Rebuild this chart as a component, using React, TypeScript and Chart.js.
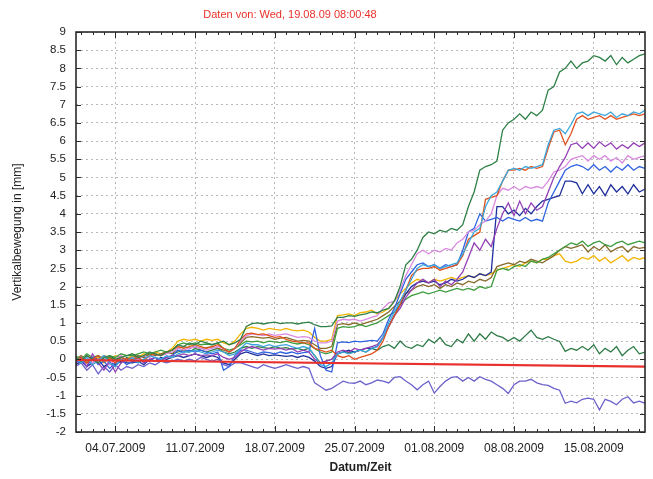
import { useEffect, useRef } from 'react';
import { Chart, registerables } from 'chart.js';

Chart.register(...registerables);

const TITLE = 'Daten von: Wed, 19.08.09 08:00:48';
const Y_TITLE = 'Vertikalbewegung in [mm]';
const X_TITLE = 'Datum/Zeit';
const FAMILY = '"Liberation Sans", Arial, Helvetica, sans-serif';

// x values: days since 27.06.2009 00:00
const xTickDays = [7, 14, 21, 28, 35, 42, 49];
const xTickLabels = ['04.07.2009', '11.07.2009', '18.07.2009', '25.07.2009', '01.08.2009', '08.08.2009', '15.08.2009'];
const sampleDays = Array.from({ length: 101 }, (_, i) => 3.5 + i * 0.5);

const redDays = [3.55, 53.5];
const redVals = [-0.02, -0.2];

const greenTop = [0.05, -0.05, 0.1, 0.0, -0.1, 0.05, 0.1, 0.0, 0.05, 0.1,
  0.15, 0.05, 0.1, 0.2, 0.15, 0.1, 0.2, 0.25,
  0.4, 0.35, 0.45, 0.4, 0.5, 0.45, 0.4, 0.45, 0.5, 0.4, 0.45, 0.55,
  0.9, 0.98, 1.0, 0.97, 1.0, 1.02, 0.98, 1.0, 1.0, 0.97, 1.0, 1.02,
  0.95, 0.9, 0.9, 0.92,
  1.15, 1.15, 1.2, 1.18, 1.22, 1.25, 1.3, 1.28, 1.35, 1.4,
  1.6, 2.0, 2.6, 2.75, 3.0, 3.35,
  3.5, 3.45, 3.55, 3.5, 3.6, 3.55,
  3.7, 4.2, 4.6, 5.2, 5.3, 5.35, 5.45,
  6.3, 6.5, 6.6, 6.75, 6.6, 6.8, 6.7, 6.85,
  7.4, 7.5, 7.9, 8.0, 8.2, 8.0, 8.15, 8.2,
  8.35, 8.3, 8.2, 8.35, 8.1, 8.3, 8.15, 8.25, 8.35, 8.4];

const cyan = [0.0, -0.1, 0.05, -0.15, -0.05, 0.1, -0.1, -0.2, 0.0, -0.05,
  0.05, -0.1, 0.0, 0.1, 0.05, 0.0, 0.1, 0.05,
  0.15, 0.2, 0.2, 0.25, 0.2, 0.15, 0.2, 0.25, 0.2, 0.1, 0.15, 0.3,
  0.45, 0.4, 0.4, 0.35, 0.4, 0.35, 0.38, 0.4, 0.35, 0.3, 0.35, 0.3,
  0.1, -0.15, -0.2, -0.1,
  0.15, 0.2, 0.15, 0.2, 0.25, 0.2, 0.3, 0.35, 0.6, 1.0,
  1.3, 1.6, 1.9, 2.2, 2.5, 2.6,
  2.55, 2.6, 2.5, 2.55, 2.6, 2.65,
  2.9, 3.2, 3.5, 3.6, 4.2, 4.5, 4.6,
  4.9, 5.2, 5.25, 5.2, 5.3, 5.25, 5.3, 5.35,
  5.9, 6.3, 6.35, 6.2, 6.45, 6.75, 6.8, 6.7,
  6.8, 6.75, 6.7, 6.8, 6.65, 6.75, 6.7, 6.8, 6.75, 6.85];

const orange = [-0.05, 0.05, -0.1, 0.0, 0.1, -0.05, 0.0, -0.1, 0.05, 0.0,
  0.0, 0.05, -0.05, 0.1, 0.15, 0.1, 0.2, 0.25,
  0.35, 0.3, 0.35, 0.4, 0.35, 0.3, 0.35, 0.4, 0.3, 0.2, 0.3, 0.55,
  0.7, 0.72, 0.68, 0.7, 0.65, 0.6, 0.62, 0.55, 0.5, 0.48, 0.45, 0.45,
  0.3, 0.25, 0.2, 0.25,
  0.1, 0.05, 0.1, 0.0, 0.05, 0.1, 0.15, 0.25, 0.5, 0.9,
  1.2, 1.5, 1.9, 2.3, 2.45, 2.5,
  2.5, 2.55, 2.45, 2.5, 2.55, 2.6,
  2.85, 3.3, 3.4, 3.5, 4.4, 4.45, 4.5,
  4.9, 5.2, 5.2, 5.25, 5.2, 5.3, 5.25, 5.3,
  5.8, 6.25, 6.3, 5.9, 6.2, 6.6, 6.7, 6.6,
  6.65, 6.7, 6.6, 6.7, 6.6, 6.65, 6.7, 6.75, 6.7, 6.75];

const purple = [-0.1, 0.05, -0.2, 0.15, -0.1, -0.3, -0.05, -0.35, -0.1, 0.0,
  -0.05, 0.05, -0.1, 0.0, 0.05, -0.05, 0.05, 0.1,
  0.1, 0.15, 0.1, 0.15, 0.1, 0.12, 0.1, 0.15, 0.05, 0.0, 0.05, 0.2,
  0.3, 0.35, 0.3, 0.25, 0.3, 0.28, 0.3, 0.25, 0.3, 0.2, 0.25, 0.2,
  0.0, -0.1, -0.05, 0.0,
  0.2, 0.25, 0.2, 0.3, 0.25, 0.3, 0.35, 0.4, 0.6, 0.9,
  1.2, 1.4, 1.7, 1.9, 2.1, 2.2,
  2.1, 2.2, 2.0, 2.15, 2.05, 2.2,
  2.4, 2.8, 3.2, 3.0, 3.3, 3.1, 3.6,
  4.0, 4.3, 3.95, 4.35, 4.0, 4.3, 4.1, 4.2,
  4.6, 5.0, 5.3, 5.55, 5.9, 5.95, 5.8, 5.95,
  5.8, 5.98, 5.85, 5.95, 5.78, 5.9, 5.8, 5.95, 5.85, 5.95];

const pink = [0.05, -0.05, 0.1, -0.1, 0.0, 0.05, -0.15, 0.0, 0.1, -0.05,
  0.05, 0.0, 0.1, 0.05, 0.15, 0.1, 0.15, 0.2,
  0.3, 0.25, 0.3, 0.35, 0.3, 0.25, 0.3, 0.35, 0.3, 0.2, 0.3, 0.5,
  0.65, 0.7, 0.68, 0.65, 0.7, 0.66, 0.68, 0.7, 0.65, 0.6, 0.62, 0.6,
  0.5, 0.45, 0.45, 0.5,
  1.05, 1.1, 1.08, 1.1, 1.05, 1.1, 1.15, 1.2, 1.4, 1.55,
  1.6, 1.9, 2.3, 2.6, 2.9, 3.0,
  2.9, 3.0, 2.95, 3.05, 3.0, 3.2,
  3.3, 3.5, 3.55, 3.7, 3.8, 4.0, 4.5,
  4.7, 4.65, 4.75, 4.65, 4.75, 4.7, 4.75, 4.7,
  4.9, 5.15, 5.2, 5.3, 5.5, 5.55, 5.6, 5.45,
  5.6, 5.5, 5.6, 5.45, 5.55, 5.4, 5.6, 5.5, 5.55, 5.6];

const blue = [-0.1, 0.0, -0.2, 0.05, -0.15, -0.05, -0.25, -0.1, 0.0, -0.15,
  -0.05, -0.1, 0.0, -0.05, 0.05, 0.0, 0.05, 0.1,
  0.25, 0.2, 0.25, 0.2, 0.25, 0.2, 0.15, 0.2, -0.3, -0.2, 0.1, 0.25,
  0.25, 0.2, 0.15, 0.2, 0.18, 0.15, 0.2, 0.16, 0.2, 0.15, 0.18, 0.2,
  0.85, 0.1, -0.3, -0.35,
  0.45, 0.48, 0.46, 0.5, 0.48, 0.5, 0.52, 0.5, 0.7, 1.1,
  1.4, 1.8, 2.2, 2.4, 2.6, 2.65,
  2.55, 2.6, 2.5, 2.6, 2.55, 2.6,
  3.0, 3.5, 3.6, 4.0, 3.8, 3.85, 3.9,
  3.8, 3.9, 3.85, 3.8, 3.9, 3.8, 3.85, 3.8,
  4.3, 4.6, 4.9, 5.2, 5.3, 5.35, 5.3, 5.2,
  5.35, 5.2, 5.3, 5.15, 5.3, 5.2, 5.35, 5.2, 5.3, 5.25];

const navy = [-0.15, -0.05, -0.2, -0.1, 0.0, -0.2, -0.1, -0.15, -0.05, -0.1,
  -0.1, -0.05, -0.15, 0.0, -0.05, 0.05, 0.0, 0.05,
  0.1, 0.05, 0.1, 0.15, 0.1, 0.05, 0.1, 0.05, -0.1, -0.15, 0.0, 0.15,
  0.2, 0.15, 0.1, 0.15, 0.1, 0.12, 0.1, 0.08, 0.1, 0.05, 0.1, 0.05,
  -0.05, -0.2, -0.25, -0.2,
  0.15, 0.2, 0.25, 0.2, 0.25, 0.3, 0.3, 0.35, 0.6, 0.9,
  1.2, 1.5, 1.8, 2.0, 2.1, 2.15,
  2.1, 2.15, 2.05, 2.1, 2.2, 2.15,
  2.2, 2.3, 2.25, 2.35, 2.3, 2.4, 4.2,
  4.2, 4.0, 4.1, 3.95, 4.15, 4.0, 4.2, 4.35,
  4.4, 4.45, 4.5, 4.9, 4.9, 4.85, 4.55, 4.8,
  4.55, 4.75, 4.5, 4.8, 4.6, 4.75, 4.55, 4.8, 4.6, 4.68];

const greenMid = [0.1, 0.0, 0.15, 0.05, 0.1, 0.0, 0.1, 0.05, 0.15, 0.1,
  0.1, 0.15, 0.2, 0.15, 0.2, 0.25, 0.2, 0.25,
  0.4, 0.45, 0.4, 0.45, 0.4, 0.42, 0.4, 0.45, 0.3, 0.25, 0.3, 0.4,
  0.5, 0.48, 0.5, 0.45, 0.5, 0.48, 0.46, 0.5, 0.45, 0.42, 0.45, 0.4,
  0.3, 0.2, 0.15, 0.2,
  0.85, 0.9, 0.88, 0.9, 0.95, 0.9, 0.95, 1.0, 1.1, 1.2,
  1.3, 1.5, 1.65, 1.75, 1.8, 1.85,
  1.8, 1.85, 1.9, 1.85, 1.9, 1.95,
  1.9, 1.95, 1.9, 2.0, 1.95, 2.0, 2.45,
  2.5, 2.45, 2.55, 2.6, 2.55, 2.7, 2.65, 2.75,
  2.8, 2.9, 3.0, 3.1, 3.2, 3.15, 3.25, 3.1,
  3.2, 3.25, 3.15, 3.1, 3.2, 3.25, 3.15, 3.2, 3.25, 3.2];

const brown = [0.0, 0.1, -0.05, 0.05, 0.0, 0.1, 0.05, -0.05, 0.05, 0.0,
  0.05, 0.1, 0.05, 0.15, 0.1, 0.15, 0.2, 0.15,
  0.3, 0.35, 0.3, 0.35, 0.3, 0.32, 0.35, 0.3, 0.25, 0.2, 0.3, 0.45,
  0.6, 0.62, 0.6, 0.58, 0.6, 0.55, 0.58, 0.6, 0.55, 0.5, 0.52, 0.5,
  0.4, 0.3, 0.3, 0.35,
  0.95, 0.98, 0.95, 1.0, 0.95, 1.0, 1.05, 1.1, 1.2, 1.3,
  1.45, 1.6, 1.8, 1.9, 2.0, 2.05,
  2.0, 2.05, 1.95, 2.05, 2.0, 2.1,
  2.05, 2.15, 2.1, 2.2, 2.15, 2.25, 2.55,
  2.6, 2.65, 2.6, 2.7, 2.65, 2.75, 2.7, 2.65,
  2.75, 2.85, 3.0, 3.1, 3.05, 3.1, 3.15, 2.95,
  3.1, 3.0, 3.15, 2.95, 3.05, 3.1, 2.95, 3.1, 3.05, 3.08];

const yellow = [0.05, -0.05, 0.1, 0.0, 0.05, -0.1, 0.0, 0.1, 0.05, 0.0,
  0.1, 0.05, 0.15, 0.1, 0.2, 0.15, 0.2, 0.3,
  0.5, 0.55, 0.52, 0.55, 0.5, 0.55, 0.52, 0.55, 0.45, 0.4, 0.5, 0.7,
  0.85, 0.88, 0.85, 0.8, 0.85, 0.82, 0.8, 0.85, 0.8, 0.78, 0.8, 0.75,
  0.6, 0.5, 0.5, 0.55,
  1.2, 1.22, 1.25, 1.2, 1.28, 1.3, 1.35, 1.25, 1.3, 1.4,
  1.6, 1.8, 1.95, 2.1, 2.2, 2.15,
  2.1, 2.2, 2.15, 2.2, 2.25, 2.2,
  2.25, 2.3, 2.25, 2.35, 2.3, 2.35, 2.45,
  2.5, 2.55, 2.6, 2.55, 2.65, 2.7, 2.65, 2.75,
  2.75, 2.85, 2.9, 2.7, 2.65, 2.7, 2.8, 2.75,
  2.85, 2.7, 2.8, 2.65, 2.75, 2.85, 2.7, 2.8, 2.75, 2.8];

const greenLow = [-0.05, 0.05, -0.1, 0.0, 0.1, -0.05, 0.05, 0.0, -0.1, 0.05,
  0.0, 0.1, 0.05, 0.1, 0.15, 0.1, 0.2, 0.15,
  0.2, 0.25, 0.2, 0.3, 0.25, 0.2, 0.25, 0.3, 0.2, 0.15, 0.2, 0.3,
  0.35, 0.3, 0.35, 0.32, 0.3, 0.35, 0.3, 0.32, 0.28, 0.3, 0.25, 0.3,
  0.1, -0.1, -0.05, 0.0,
  0.15, 0.2, 0.18, 0.2, 0.25, 0.2, 0.3, 0.25, 0.35, 0.4,
  0.3, 0.5, 0.35, 0.3, 0.4, 0.35,
  0.55, 0.45, 0.6, 0.4, 0.35, 0.55,
  0.45, 0.7, 0.5, 0.7, 0.55, 0.75, 0.65,
  0.6, 0.5, 0.6, 0.5, 0.65, 0.8, 0.6, 0.55,
  0.62, 0.55, 0.49, 0.22, 0.3, 0.25, 0.35, 0.25,
  0.4, 0.15, 0.3, 0.2, 0.35, 0.1, 0.25, 0.35, 0.15, 0.2];

const violet = [-0.2, -0.1, -0.3, -0.15, -0.4, -0.2, -0.35, -0.15, -0.3, -0.2,
  -0.25, -0.15, -0.2, -0.1, -0.15, -0.05, -0.1, -0.05,
  0.0, -0.05, 0.0, -0.05, 0.05, 0.0, -0.05, 0.0, -0.15, -0.2, -0.1, -0.1,
  -0.15, -0.2, -0.25, -0.15, -0.2, -0.25, -0.2, -0.15, -0.2, -0.25, -0.2, -0.25,
  -0.65, -0.75, -0.85, -0.8,
  -0.7, -0.6, -0.65, -0.66, -0.6, -0.7, -0.65, -0.57, -0.6, -0.65,
  -0.5, -0.48, -0.6, -0.7, -0.84, -0.7,
  -0.6, -0.93, -0.75, -0.6, -0.5, -0.48,
  -0.6, -0.5, -0.6, -0.48, -0.55, -0.6, -0.7,
  -0.8, -0.94, -0.7, -0.6, -0.6, -0.55, -0.65, -0.7,
  -0.72, -0.8, -0.85, -1.21, -1.15, -1.2, -1.1, -1.07,
  -1.1, -1.39, -1.1, -1.16, -1.25, -1.1, -1.03, -1.2, -1.15, -1.21];

const seriesDefs = [
  { name: 'Grün oben', values: greenTop, color: '#2f8047' },
  { name: 'Cyan', values: cyan, color: '#3aa6dc' },
  { name: 'Orange', values: orange, color: '#e0531e' },
  { name: 'Violett', values: purple, color: '#9440b5' },
  { name: 'Rosa', values: pink, color: '#d98ae0' },
  { name: 'Blau', values: blue, color: '#2f62e0' },
  { name: 'Dunkelblau', values: navy, color: '#1f2f9c' },
  { name: 'Grün', values: greenMid, color: '#3c9c3c' },
  { name: 'Braun', values: brown, color: '#866a2a' },
  { name: 'Gelb', values: yellow, color: '#f2b400' },
  { name: 'Grün unten', values: greenLow, color: '#2e7a46' },
  { name: 'Blauviolett', values: violet, color: '#6c62cc' },
];

const titlePlugin = {
  id: 'refTitle',
  afterDraw(chart: any) {
    const { ctx } = chart;
    ctx.save();
    ctx.font = `11px ${FAMILY}`;
    ctx.fillStyle = '#e8312a';
    ctx.textAlign = 'center';
    ctx.textBaseline = 'middle';
    ctx.fillText(TITLE, 290, 15);
    ctx.restore();
  },
};

const framePlugin = {
  id: 'frame',
  afterDatasetsDraw(chart: any) {
    const { ctx, chartArea: a, scales } = chart;
    const xs = scales.x;
    const ys = scales.y;
    ctx.save();
    ctx.strokeStyle = '#2a2a2a';
    ctx.lineWidth = 1.6;
    ctx.strokeRect(a.left, a.top, a.right - a.left, a.bottom - a.top);
    ctx.lineWidth = 1;
    ctx.beginPath();
    for (let d = Math.ceil(xs.min); d <= xs.max; d++) {
      const px = Math.round(xs.getPixelForValue(d)) + 0.5;
      const len = xTickDays.includes(d) ? 6 : 3;
      ctx.moveTo(px, a.bottom);
      ctx.lineTo(px, a.bottom - len);
      ctx.moveTo(px, a.top);
      ctx.lineTo(px, a.top + len);
    }
    for (const t of ys.ticks) {
      const py = Math.round(ys.getPixelForValue(t.value)) + 0.5;
      ctx.moveTo(a.left, py);
      ctx.lineTo(a.left + 5, py);
      ctx.moveTo(a.right, py);
      ctx.lineTo(a.right - 5, py);
    }
    ctx.stroke();
    ctx.restore();
  },
};

export default function App() {
  const canvasRef = useRef<HTMLCanvasElement | null>(null);

  useEffect(() => {
    if (!canvasRef.current) return;
    const datasets: any[] = [
      {
        label: 'Referenz',
        data: redDays.map((x, i) => ({ x, y: redVals[i] })),
        borderColor: '#e8302c',
        borderWidth: 2.2,
        pointRadius: 0,
        tension: 0,
      },
      ...seriesDefs.map((s) => ({
        label: s.name,
        data: sampleDays.map((x, i) => ({ x, y: s.values[i] })),
        borderColor: s.color,
        borderWidth: 1.3,
        pointRadius: 0,
        tension: 0,
      })),
    ];

    const chart = new Chart(canvasRef.current, {
      type: 'line',
      data: { datasets },
      options: {
        animation: false,
        responsive: true,
        maintainAspectRatio: false,
        layout: { padding: { top: 32, right: 8, left: 0, bottom: 0 } },
        plugins: {
          legend: { display: false },
          tooltip: { enabled: false },
          title: { display: false },
        },
        scales: {
          x: {
            type: 'linear',
            min: 3.55,
            max: 53.5,
            afterBuildTicks: (axis: any) => {
              axis.ticks = xTickDays.map((v) => ({ value: v }));
            },
            afterFit: (axis: any) => {
              axis.height = 47;
            },
            grid: { color: '#b9b9b9', lineWidth: 1, drawTicks: false },
            border: { display: false, dash: [2, 3] },
            ticks: {
              padding: 9,
              color: '#222',
              autoSkip: false,
              maxRotation: 0,
              font: { size: 12, family: FAMILY },
              callback: (v: any) => {
                const i = xTickDays.indexOf(Number(v));
                return i >= 0 ? xTickLabels[i] : '';
              },
            },
            title: {
              display: true,
              text: X_TITLE,
              color: '#222',
              font: { size: 12, weight: 'bold', family: FAMILY },
              padding: { top: 4, bottom: 4 },
            },
          },
          y: {
            type: 'linear',
            min: -2,
            max: 9,
            afterFit: (axis: any) => {
              axis.width = 76;
            },
            grid: { color: '#b9b9b9', lineWidth: 1, drawTicks: false },
            border: { display: false, dash: [2, 3] },
            ticks: {
              stepSize: 0.5,
              padding: 10,
              color: '#222',
              autoSkip: false,
              font: { size: 11.5, family: FAMILY },
              callback: (v: any) => String(Math.round(Number(v) * 10) / 10),
            },
            title: {
              display: true,
              text: Y_TITLE,
              color: '#222',
              font: { size: 12, family: FAMILY },
              padding: { top: 10, bottom: 4 },
            },
          },
        },
      },
      plugins: [titlePlugin, framePlugin],
    });
    return () => chart.destroy();
  }, []);

  return (
    <div style={{ position: 'absolute', left: 0, top: 0, width: 653, height: 479, background: '#fff' }}>
      <canvas ref={canvasRef} />
    </div>
  );
}
